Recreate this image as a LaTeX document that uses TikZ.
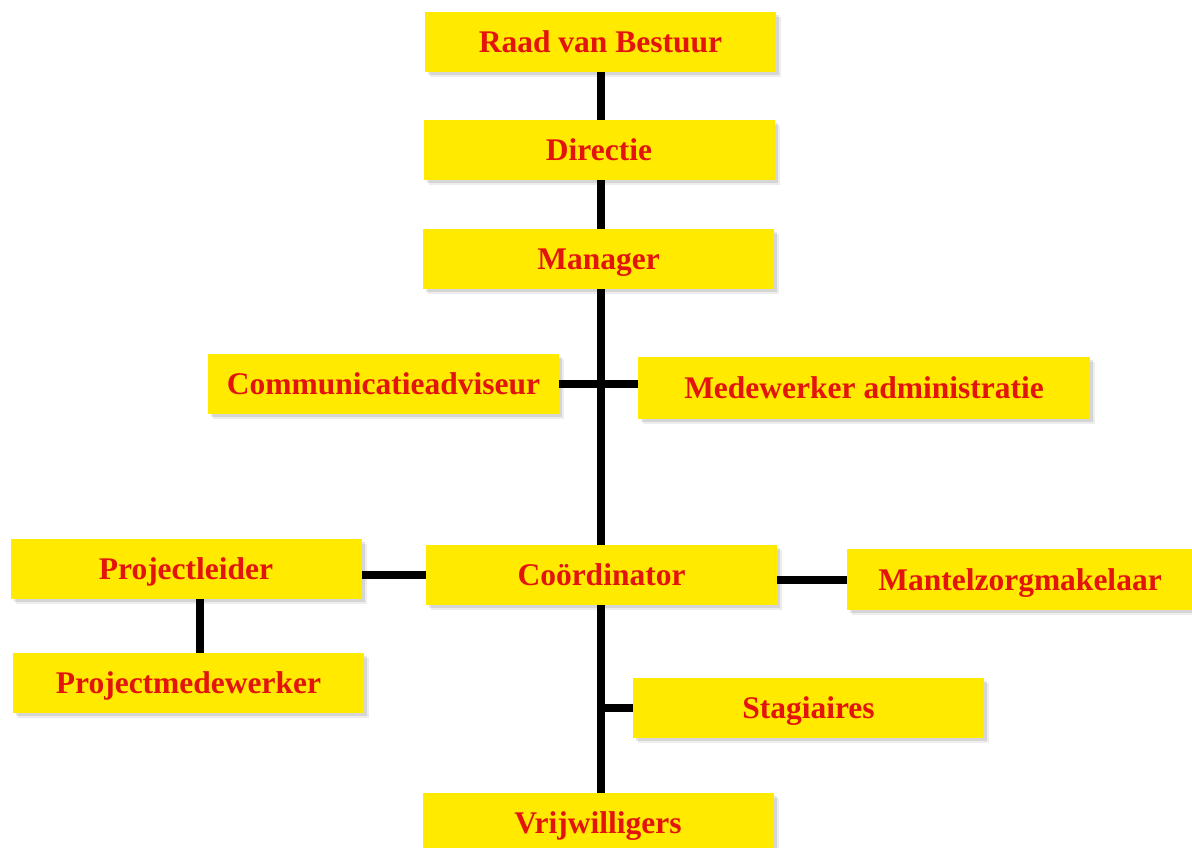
\documentclass[tikz,border=0pt]{standalone}
\usepackage{fontspec}
\setmainfont{Liberation Serif}
\usetikzlibrary{shadows,backgrounds}
\definecolor{boxyellow}{RGB}{255,234,0}
\definecolor{boxred}{RGB}{226,20,12}
\tikzset{
  orgbox/.style={fill=boxyellow, draw=none, minimum width=351pt, minimum height=60pt,
    inner sep=0pt, text=boxred, font=\fontsize{31.5}{36}\selectfont\bfseries,
    text height=21pt, text depth=0pt,
    general shadow={shadow xshift=5pt, shadow yshift=-5pt, fill=black, opacity=0.07},
    general shadow={shadow xshift=3pt, shadow yshift=-3pt, fill=black, opacity=0.1}},
  link/.style={line width=8pt, draw=black}
}
\begin{document}
\begin{tikzpicture}[x=1pt,y=-1pt]
\useasboundingbox (0,0) rectangle (1192,848);
\clip (0,0) rectangle (1192,848);
% nodes
\node[orgbox] (raad) at (600.5,42) {Raad van Bestuur};
\node[orgbox] (dir) at (599,150) {Directie};
\node[orgbox] (man) at (598.5,258.5) {Manager};
\node[orgbox] (comm) at (383.5,383.5) {Communicatieadviseur};
\node[orgbox, minimum width=452pt, minimum height=62pt] (med) at (864,388) {Medewerker administratie};
\node[orgbox] (proj) at (186,569) {Projectleider};
\node[orgbox] (projm) at (188.5,683) {Projectmedewerker};
\node[orgbox] (coord) at (601.5,575) {Coördinator};
\node[orgbox, minimum width=346pt, minimum height=61pt] (mantel) at (1020,579.5) {Mantelzorgmakelaar};
\node[orgbox] (stag) at (808.5,708) {Stagiaires};
\node[orgbox] (vrij) at (598,823) {Vrijwilligers};
% connectors (behind boxes)
\begin{scope}[on background layer]
\draw[link] (raad.south) -- (raad.south |- vrij.north);
\draw[link] (comm.east) -- (comm.east -| med.west);
\draw[link] (proj.east |- coord.west) -- (coord.west);
\draw[link] (mantel.west -| coord.east) -- (mantel.west);
\draw[link] (stag.west -| raad.south) -- (stag.west);
\draw[link] ([xshift=14pt]proj.south) -- ([xshift=14pt]proj.south |- projm.north);
\end{scope}
\end{tikzpicture}
\end{document}
